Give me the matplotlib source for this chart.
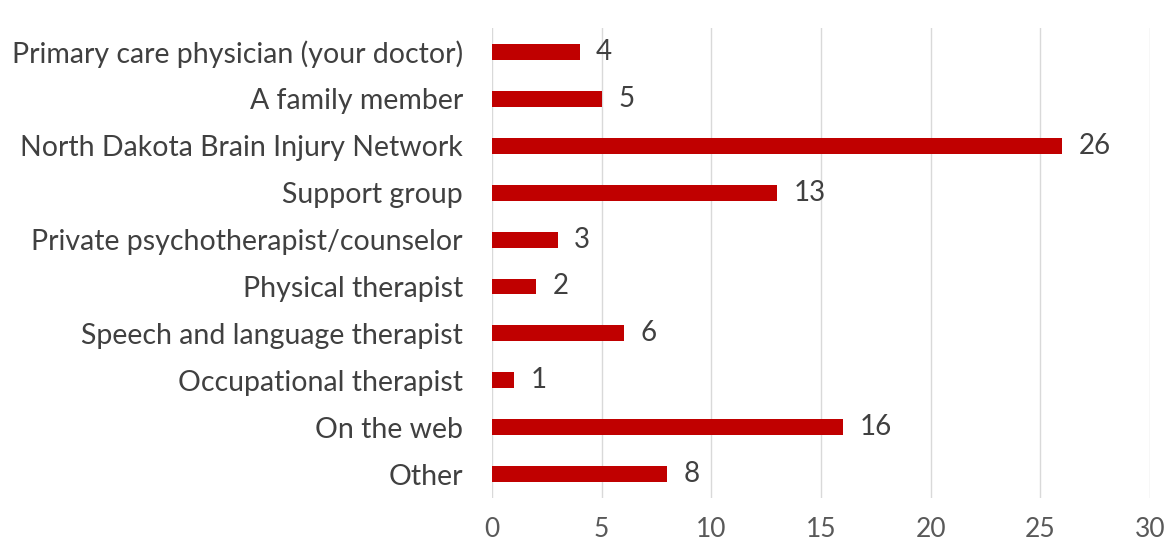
import matplotlib.pyplot as plt
import numpy as np

categories = [
    "Primary care physician (your doctor)",
    "A family member",
    "North Dakota Brain Injury Network",
    "Support group",
    "Private psychotherapist/counselor",
    "Physical therapist",
    "Speech and language therapist",
    "Occupational therapist",
    "On the web",
    "Other",
]
counts = [4, 5, 26, 13, 3, 2, 6, 1, 16, 8]
x_ticks = [0, 5, 10, 15, 20, 25, 30]

plt.rcParams["font.family"] = ["Lato", "DejaVu Sans"]

fig = plt.figure(figsize=(11.67, 5.48), dpi=100)
ax = fig.add_axes([0.4216, 0.092, 0.5638, 0.856])

y = np.arange(len(categories))
ax.barh(y, counts, height=0.34, color="#C00000", zorder=3)

for yi, v in zip(y, counts):
    ax.text(v + 0.75, yi, str(v), va="center", ha="left",
            fontsize=20, color="#404040")

ax.set_yticks(y)
ax.set_yticklabels(categories, fontsize=20.5, color="#404040")
ax.set_ylim(len(categories) - 0.5, -0.5)

ax.set_xlim(0, 30)
ax.set_xticks(x_ticks)
ax.set_xticklabels([str(t) for t in x_ticks], fontsize=19, color="#595959")
ax.grid(axis="x", color="#D9D9D9", linewidth=1, zorder=0)

for s in ax.spines.values():
    s.set_visible(False)
ax.tick_params(axis="both", length=0)
ax.tick_params(axis="y", pad=21)
ax.tick_params(axis="x", pad=14)

fig.savefig("out.png", dpi=100, facecolor="white")
